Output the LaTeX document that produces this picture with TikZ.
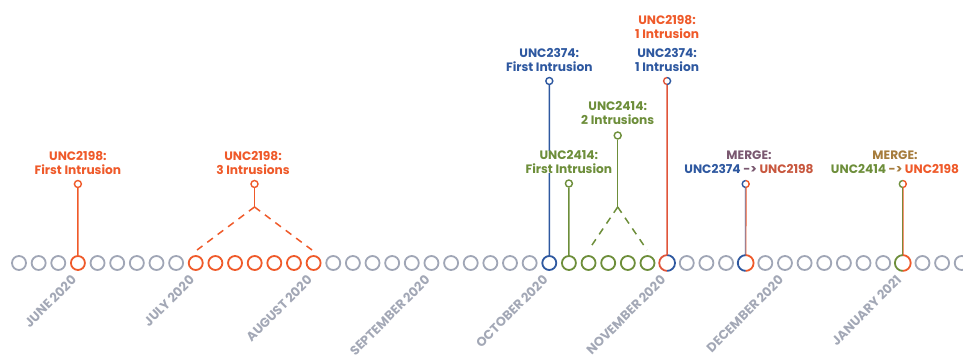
\documentclass[tikz,border=0pt]{standalone}
\usepackage{fontspec}
\setmainfont{Poppins}
\definecolor{orc}{HTML}{EF5A2A}
\definecolor{bluc}{HTML}{2E58A0}
\definecolor{grc}{HTML}{6D8E3A}
\definecolor{grayc}{HTML}{A0A6B6}
\definecolor{monc}{HTML}{A3A8B6}
\definecolor{mrgc}{HTML}{7A5870}
\definecolor{mrgtwoc}{HTML}{A67C3C}
\definecolor{redc}{HTML}{E0553A}
\definecolor{brorc}{HTML}{C8573E}
\begin{document}
\begin{tikzpicture}[x=1pt,y=-1pt,
  bigc/.style={circle, minimum size=14pt, inner sep=0pt, line width=1.8pt, fill=white},
  tipc/.style={circle, minimum size=7pt, inner sep=0pt, line width=1.4pt, fill=white},
  stem/.style={line width=1.5pt},
  vdash/.style={line width=1.5pt, dash pattern=on 7pt off 6pt},
  lab/.style={font=\bfseries\fontsize{12.2}{13.4}\selectfont, align=center, anchor=south, inner sep=0pt, fill=white},
  mon/.style={font=\bfseries\fontsize{12.8}{13}\selectfont, text=monc, rotate=45, anchor=north east, inner sep=0pt}]
\useasboundingbox (0,0) rectangle (963,358);
% timeline circles
\foreach \i in {0,...,48}{
  \def\cc{grayc}
  \ifnum\i=3 \def\cc{orc}\fi
  \ifnum\i>8 \ifnum\i<16 \def\cc{orc}\fi\fi
  \ifnum\i=27 \def\cc{bluc}\fi
  \ifnum\i>27 \ifnum\i<33 \def\cc{grc}\fi\fi
  \ifnum\i=33 \def\cc{none}\fi
  \ifnum\i=37 \def\cc{none}\fi
  \ifnum\i=45 \def\cc{none}\fi
  \node[bigc, draw=\cc] (c\i) at ({19+19.64*\i},263) {};
}
% two-coloured circles
\draw[redc, line width=1.8pt] (c33.center) ++(0,7.9) arc[start angle=90, end angle=270, radius=7.9];
\draw[bluc, line width=1.8pt] (c33.center) ++(0,7.9) arc[start angle=90, end angle=-90, radius=7.9];
\draw[bluc, line width=1.8pt] (c37.center) ++(0,7.9) arc[start angle=90, end angle=270, radius=7.9];
\draw[orc, line width=1.8pt] (c37.center) ++(0,7.9) arc[start angle=90, end angle=-90, radius=7.9];
\draw[grc, line width=1.8pt] (c45.center) ++(0,7.9) arc[start angle=90, end angle=270, radius=7.9];
\draw[orc, line width=1.8pt] (c45.center) ++(0,7.9) arc[start angle=90, end angle=-90, radius=7.9];

% tips
\node[tipc, draw=orc] (t1) at (77.9,184) {};
\node[tipc, draw=orc] (t2) at (254.5,184) {};
\node[tipc, draw=bluc] (t3) at (549.3,81) {};
\node[tipc, draw=grc] (t4) at (568.9,183.5) {};
\node[tipc, draw=grc] (t5) at (617.7,135.5) {};
\node[tipc, draw=none] (t6) at (667.1,81) {};
\node[tipc, draw=none] (t7) at (745.7,184) {};
\node[tipc, draw=none] (t8) at (902.8,184) {};

\coordinate (a1) at (254.5,207);
\coordinate (a1l) at (197,250);
\coordinate (a1r) at (312,250);
\coordinate (a2) at (617.7,207);
\coordinate (a2l) at (588.6,250);
\coordinate (a2r) at (647,250);

% stems
\draw[stem, orc] (t1.south) -- (c3.north);
\draw[stem, orc] (t2.south) -- (a1);
\draw[vdash, orc] (a1) -- (a1l);
\draw[vdash, orc] (a1) -- (a1r);
\draw[stem, bluc] (t3.south) -- (c27.north);
\draw[stem, grc] (t4.south) -- (c28.north);
\draw[stem, grc] (t5.south) -- (a2);
\draw[vdash, grc] (a2) -- (a2l);
\draw[vdash, grc] (a2) -- (a2r);
\draw[stem, redc] (t6.south) -- (c33.north);
\draw[line width=0.8pt, bluc] ([xshift=-0.4pt]t7.south) -- ([xshift=-0.4pt]c37.north);
\draw[line width=0.8pt, orc] ([xshift=0.4pt]t7.south) -- ([xshift=0.4pt]c37.north);
\draw[line width=0.8pt, grc] ([xshift=-0.4pt]t8.south) -- ([xshift=-0.4pt]c45.north);
\draw[line width=0.8pt, orc] ([xshift=0.4pt]t8.south) -- ([xshift=0.4pt]c45.north);

% two-coloured tips
\draw[redc, line width=1.4pt] (t6.center) ++(0,3.5) arc[start angle=90, end angle=270, radius=3.5];
\draw[bluc, line width=1.4pt] (t6.center) ++(0,3.5) arc[start angle=90, end angle=-90, radius=3.5];
\draw[bluc, line width=1.4pt] (t7.center) ++(0,3.5) arc[start angle=90, end angle=270, radius=3.5];
\draw[orc, line width=1.4pt] (t7.center) ++(0,3.5) arc[start angle=90, end angle=-90, radius=3.5];
\draw[grc, line width=1.4pt] (t8.center) ++(0,3.5) arc[start angle=90, end angle=270, radius=3.5];
\draw[orc, line width=1.4pt] (t8.center) ++(0,3.5) arc[start angle=90, end angle=-90, radius=3.5];

% labels
\node[lab, text=orc] (l1) at (77.9,174.5) {UNC2198:\\First Intrusion};
\node[lab, text=orc] (l2) at (253,174.5) {UNC2198:\\3 Intrusions};
\node[lab, text=bluc] (l3) at (549.3,71.5) {UNC2374:\\First Intrusion};
\node[lab, text=grc] (l4) at (568.9,173.5) {UNC2414:\\First Intrusion};
\node[lab, text=grc] (l5) at (617.7,124.5) {UNC2414:\\2 Intrusions};
\node[lab, text=bluc] (l6) at (667.1,71.5) {UNC2374:\\1 Intrusion};
\node[lab, text=orc] (l7) at (667.1,38.5) {UNC2198:\\1 Intrusion};
\node[lab] (l8) at (749,173.5) {\textcolor{mrgc}{MERGE:}\\\textcolor{bluc}{UNC2374} \textcolor{mrgc}{->} \textcolor{brorc}{UNC2198}};
\node[lab] (l9) at (895,173.5) {\textcolor{mrgtwoc}{MERGE:}\\\textcolor{grc}{UNC2414} \textcolor{mrgtwoc}{->} \textcolor{orc}{UNC2198}};

% months
\node[mon] (m1) at (70.5,274) {JUNE 2020};
\node[mon] (m2) at (188.4,274) {JULY 2020};
\node[mon] (m3) at (306.2,274) {AUGUST 2020};
\node[mon] (m4) at (424,274) {SEPTEMBER 2020};
\node[mon] (m5) at (541.9,274) {OCTOBER 2020};
\node[mon] (m6) at (659.7,274) {NOVEMBER 2020};
\node[mon] (m7) at (777.6,274) {DECEMBER 2020};
\node[mon] (m8) at (895.4,274) {JANUARY 2021};
\end{tikzpicture}
\end{document}
